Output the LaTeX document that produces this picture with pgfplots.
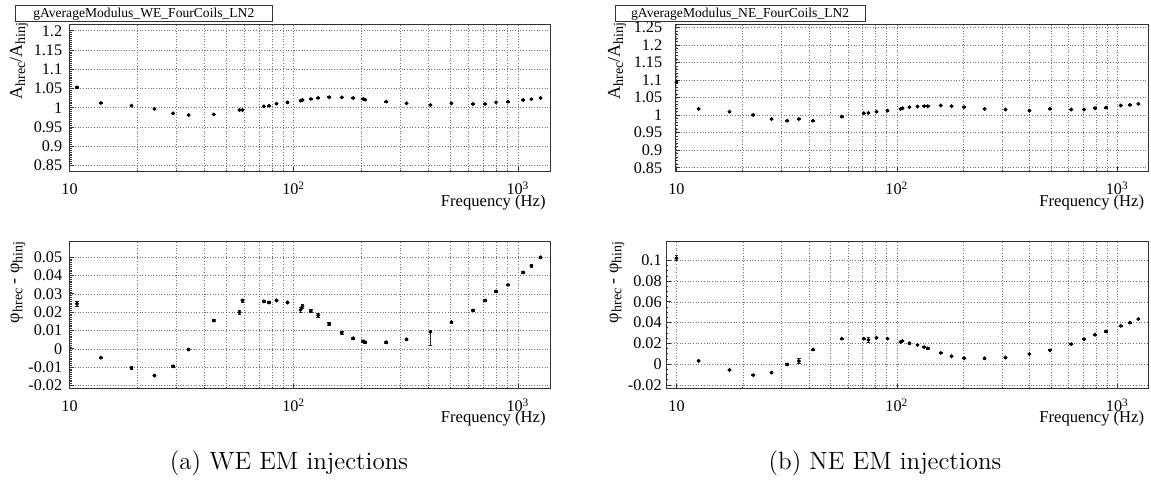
\documentclass[border=0pt]{standalone}
\usepackage{fontspec}
\newfontfamily\rootfont{Liberation Serif}
\usepackage{pgfplots}
\usepackage{pgfplotstable}
\pgfplotsset{compat=1.18}

\newcommand{\sub}[1]{\raisebox{-0.4ex}{\fontsize{7}{7}\selectfont #1}}

% WE modulus
\pgfplotstableread{
f v e
10.8 1.053 0.002
13.8 1.0123 0.001
18.9 1.0054 0.0015
23.9 0.9966 0.001
29.0 0.9853 0.001
34.0 0.981 0.001
44.0 0.9827 0.001
57.3 0.994 0.001
59.1 0.994 0.001
73.6 1.0036 0.001
77.6 1.0054 0.001
83.8 1.0106 0.0015
93.8 1.014 0.0015
107.3 1.0185 0.001
109.4 1.020 0.0015
119.2 1.0228 0.001
128.6 1.0254 0.001
144 1.0272 0.001
163.8 1.027 0.001
184.3 1.0254 0.001
204 1.0228 0.001
208 1.021 0.001
258.5 1.0158 0.0015
318.5 1.0115 0.001
407 1.007 0.002
505 1.0115 0.001
630 1.0097 0.001
714 1.0097 0.001
799 1.014 0.001
903 1.0158 0.0015
1056 1.020 0.001
1148 1.022 0.001
1262 1.0254 0.001
}\weA

% WE phase
\pgfplotstableread{
f v ep em
10.8 0.0246 0.0012 0.0012
13.8 -0.0048 0.0004 0.0004
18.9 -0.0104 0.0006 0.0006
23.9 -0.0146 0.0005 0.0005
29.0 -0.0095 0.0004 0.0004
34.0 -0.0004 0.0004 0.0004
44.0 0.0154 0.0005 0.0005
57.3 0.0199 0.0012 0.0012
59.1 0.0264 0.0008 0.0008
73.6 0.0259 0.0006 0.0006
77.6 0.0253 0.0004 0.0004
83.8 0.0264 0.0006 0.0006
93.8 0.0253 0.0006 0.0006
107.3 0.0213 0.0012 0.0012
109.4 0.0232 0.0009 0.0009
119.2 0.0206 0.0009 0.0009
128.6 0.0183 0.0009 0.0009
144 0.0137 0.0008 0.0008
163.8 0.0087 0.0008 0.0008
184.3 0.0058 0.0007 0.0007
204 0.0041 0.0006 0.0006
208 0.0036 0.0005 0.0005
258.5 0.0036 0.0006 0.0006
318.5 0.0052 0.0006 0.0006
407 0.0092 0.0006 0.0072
505 0.0146 0.0005 0.0005
630 0.0210 0.0005 0.0005
714 0.0264 0.0005 0.0005
799 0.0313 0.0005 0.0005
903 0.0349 0.0005 0.0005
1056 0.0417 0.0006 0.0006
1148 0.0453 0.0006 0.0006
1262 0.0500 0.0005 0.0005
}\weP

% NE modulus
\pgfplotstableread{
f v e
10.0 1.0946 0.002
12.6 1.0179 0.001
17.4 1.0102 0.0015
22.3 1.0006 0.001
27.0 0.989 0.001
31.8 0.9843 0.001
35.9 0.989 0.001
41.6 0.9843 0.001
56.2 0.9958 0.0015
70.7 1.0054 0.001
74.3 1.0064 0.002
80.8 1.0102 0.001
90.6 1.013 0.0015
103.9 1.0179 0.001
106 1.0198 0.0015
114 1.0227 0.001
124 1.0246 0.001
133 1.0255 0.001
138 1.0255 0.001
158 1.0275 0.001
177 1.0255 0.001
202 1.0227 0.001
250 1.0179 0.001
311 1.016 0.001
399 1.013 0.001
495 1.0179 0.001
618 1.016 0.001
706 1.016 0.001
792 1.0198 0.001
889 1.0217 0.0015
1036 1.0275 0.001
1140 1.0294 0.001
1245 1.0322 0.001
}\neA

% NE phase
\pgfplotstableread{
f v e
10.0 0.102 0.0025
12.6 0.0032 0.0005
17.4 -0.0056 0.0006
22.3 -0.0106 0.0004
27.0 -0.0081 0.0004
31.8 -0.0002 0.0005
35.9 0.0029 0.0025
41.6 0.0142 0.0005
56.2 0.0246 0.0006
70.7 0.0246 0.0005
74.3 0.0233 0.0022
80.8 0.0255 0.0006
90.6 0.0246 0.0005
103.9 0.0215 0.0005
106 0.0224 0.0008
114 0.0202 0.0008
124 0.0186 0.0008
133 0.0164 0.0006
138 0.0152 0.0005
158 0.0108 0.0006
177 0.0076 0.0005
202 0.0057 0.0005
250 0.0057 0.0008
311 0.0064 0.0006
399 0.0098 0.0005
495 0.0133 0.0005
618 0.0193 0.0006
706 0.0240 0.0005
792 0.0284 0.0005
889 0.0315 0.0007
1036 0.0369 0.0006
1140 0.0400 0.0006
1245 0.0435 0.0006
}\neP

\pgfplotsset{
  rootax/.style={
    scale only axis, scaled y ticks=false,
    axis line style={black!80, line width=0.5pt},
    tick style={black!80, line width=0.4pt},
    tick align=inside, xtick pos=left, ytick pos=left,
    major tick length=2.4pt, minor tick length=1.2pt,
    xtick={10,100,1000},
    xticklabels={10,10\textsuperscript{2},10\textsuperscript{3}},
    minor xtick={20,30,40,50,60,70,80,90,200,300,400,500,600,700,800,900},
    xmajorgrids=true, xminorgrids=true, ymajorgrids=true,
    major grid style={black!55, line width=0.35pt, dash pattern=on 0.45pt off 0.9pt},
    minor grid style={black!55, line width=0.35pt, dash pattern=on 0.45pt off 0.9pt},
    tick label style={font=\rootfont\fontsize{8.1}{8.1}\selectfont, inner sep=0pt},
    xticklabel style={anchor=base, yshift=-11.5pt},
    yticklabel style={anchor=east},
  },
  pts/.style={black, mark=*, mark size=0.75pt, only marks,
    error bars/y dir=both, error bars/y explicit,
    error bars/error bar style={black!85, line width=0.4pt},
    error bars/error mark options={rotate=90, mark size=0.9pt, black!85, line width=0.4pt}},
}

\begin{document}
\begin{tikzpicture}
\useasboundingbox (0,0) rectangle (575.5pt,242.5pt);

% ---- top left: WE modulus
\begin{semilogxaxis}[rootax, clip=false, anchor=south west, at={(34.75pt,156.5pt)}, width=240.25pt, height=73.5pt,
  xmin=10, xmax=1390, ymin=0.833, ymax=1.215,
  ytick={0.85,0.9,0.95,1,1.05,1.1,1.15,1.2},
  yticklabels={0.85,0.9,0.95,1,1.05,1.1,1.15,1.2},
  minor y tick num=9, yticklabel style={xshift=-3.5pt}]
\addplot[pts] table[x=f, y=v, y error=e] {\weA};
\end{semilogxaxis}

% ---- top right: NE modulus
\begin{semilogxaxis}[rootax, clip=false, anchor=south west, at={(337.75pt,156.5pt)}, width=236.5pt, height=73.5pt,
  xmin=9.9, xmax=1385, ymin=0.838, ymax=1.257,
  ytick={0.85,0.9,0.95,1,1.05,1.1,1.15,1.2,1.25},
  yticklabels={0.85,0.9,0.95,1,1.05,1.1,1.15,1.2,1.25},
  minor y tick num=4, yticklabel style={xshift=-6.5pt}]
\addplot[pts] table[x=f, y=v, y error=e] {\neA};
\end{semilogxaxis}

% ---- bottom left: WE phase
\begin{semilogxaxis}[rootax, clip=false, anchor=south west, at={(34.75pt,48pt)}, width=240.25pt, height=73.5pt,
  xmin=10, xmax=1390, ymin=-0.0219, ymax=0.0583,
  ytick={-0.02,-0.01,0,0.01,0.02,0.03,0.04,0.05},
  yticklabels={-0.02,-0.01,0,0.01,0.02,0.03,0.04,0.05},
  minor y tick num=9, yticklabel style={xshift=-3.5pt}]
\addplot[pts] table[x=f, y=v, y error plus=ep, y error minus=em] {\weP};
\end{semilogxaxis}

% ---- bottom right: NE phase
\begin{semilogxaxis}[rootax, clip=false, anchor=south west, at={(333pt,48pt)}, width=241.25pt, height=73.5pt,
  xmin=8.96, xmax=1385, ymin=-0.0239, ymax=0.1177,
  ytick={-0.02,0,0.02,0.04,0.06,0.08,0.1},
  yticklabels={-0.02,0,0.02,0.04,0.06,0.08,0.1},
  minor y tick num=3, yticklabel style={xshift=-2pt}]
\addplot[pts] table[x=f, y=v, y error=e] {\neP};
\end{semilogxaxis}

% x titles
\begin{scope}[every node/.style={font=\rootfont\fontsize{8.3}{8.3}\selectfont, inner sep=0pt, anchor=base east}]
\node at (273pt,139pt) {Frequency (Hz)};
\node at (572.25pt,139pt) {Frequency (Hz)};
\node at (273pt,31pt) {Frequency (Hz)};
\node at (572.25pt,31pt) {Frequency (Hz)};
\end{scope}

% y titles
\begin{scope}[every node/.style={font=\rootfont\fontsize{9}{9}\selectfont, inner sep=0pt, rotate=90, anchor=east}]
\node at (9.5pt,231.5pt) {A\sub{hrec}/A\sub{hinj}};
\node at (308.5pt,231.5pt) {A\sub{hrec}/A\sub{hinj}};
\node at (9pt,122pt) {φ\sub{hrec} - φ\sub{hinj}};
\node at (308.5pt,122pt) {φ\sub{hrec} - φ\sub{hinj}};
\end{scope}

% title boxes
\node[draw=black!80, line width=0.5pt, minimum width=128.25pt, minimum height=8pt, inner sep=0pt,
  font=\rootfont\fontsize{6.8}{6.8}\selectfont] at (71.9pt,235.5pt) {gAverageModulus\_WE\_FourCoils\_LN2};
\node[draw=black!80, line width=0.5pt, minimum width=124.85pt, minimum height=8pt, inner sep=0pt,
  font=\rootfont\fontsize{6.8}{6.8}\selectfont] at (370.1pt,235.5pt) {gAverageModulus\_NE\_FourCoils\_LN2};

% captions
\node[font=\fontsize{12.5}{12.5}\selectfont, inner sep=0pt] at (144.5pt,11pt) {(a) WE EM injections};
\node[font=\fontsize{12.5}{12.5}\selectfont, inner sep=0pt] at (442.5pt,11pt) {(b) NE EM injections};
\end{tikzpicture}
\end{document}
